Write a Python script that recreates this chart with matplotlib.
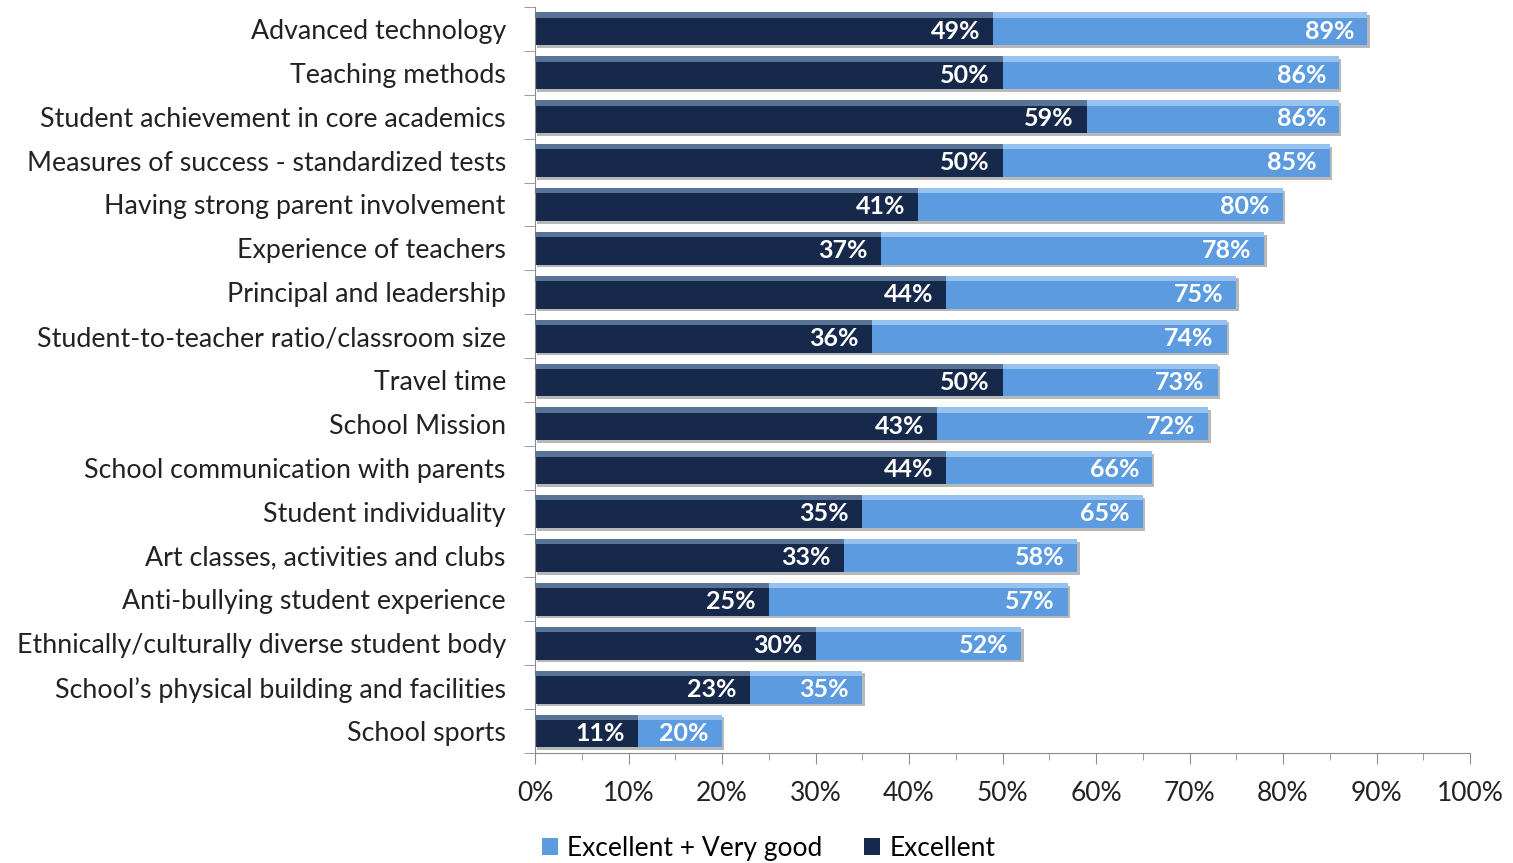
import numpy as np
import matplotlib.pyplot as plt
from matplotlib.ticker import MultipleLocator, FixedLocator, PercentFormatter
from matplotlib.patches import Patch

plt.rcParams["font.family"] = ["Lato", "DejaVu Sans"]

categories = [
    "Advanced technology",
    "Teaching methods",
    "Student achievement in core academics",
    "Measures of success - standardized tests",
    "Having strong parent involvement",
    "Experience of teachers",
    "Principal and leadership",
    "Student-to-teacher ratio/classroom size",
    "Travel time",
    "School Mission",
    "School communication with parents",
    "Student individuality",
    "Art classes, activities and clubs",
    "Anti-bullying student experience",
    "Ethnically/culturally diverse student body",
    "School\u2019s physical building and facilities",
    "School sports",
]
excellent_vgood = [89, 86, 86, 85, 80, 78, 75, 74, 73, 72, 66, 65, 58, 57, 52, 35, 20]
excellent = [49, 50, 59, 50, 41, 37, 44, 36, 50, 43, 44, 35, 33, 25, 30, 23, 11]

LIGHT = "#5d9be0"
LIGHT_TOP = "#a5cdf3"
DARK = "#17294a"
DARK_TOP = "#4d6688"

fig = plt.figure(figsize=(15.13, 8.63), dpi=100)
ax = fig.add_axes([0.3536, 0.1275, 0.6180, 0.8644])

y = np.arange(len(categories))
h = 0.75

# soft shadow under each bar
ax.barh(y + 0.06, excellent_vgood, height=h, color="#b8b8b8", left=0.25, zorder=1, linewidth=0)
for vals, base, top in [(excellent_vgood, LIGHT, LIGHT_TOP), (excellent, DARK, DARK_TOP)]:
    ax.barh(y, vals, height=h, color=base, zorder=2, linewidth=0)
    # bevel highlight along the top edge
    ax.barh(y - h / 2 + 0.06, vals, height=0.12, color=top, zorder=3, linewidth=0, alpha=0.8)

for i in range(len(categories)):
    ax.text(excellent_vgood[i] - 1.4, y[i] + 0.05, f"{excellent_vgood[i]}%", ha="right", va="center",
            color="white", fontsize=18, fontweight="bold", zorder=5)
    ax.text(excellent[i] - 1.4, y[i] + 0.05, f"{excellent[i]}%", ha="right", va="center",
            color="white", fontsize=18, fontweight="bold", zorder=5)

ax.set_xlim(0, 100)
ax.set_ylim(len(categories) - 0.5, -0.5)
ax.xaxis.set_major_locator(MultipleLocator(10))
ax.xaxis.set_minor_locator(MultipleLocator(5))
ax.xaxis.set_major_formatter(PercentFormatter(decimals=0))
ax.set_yticks(y)
ax.set_yticklabels(categories)
ax.yaxis.set_minor_locator(FixedLocator(np.arange(-0.5, len(categories), 1)))

for s in ["top", "right"]:
    ax.spines[s].set_visible(False)
for s in ["left", "bottom"]:
    ax.spines[s].set_color("#8c8c8c")

ax.tick_params(axis="x", which="major", length=8, color="#8c8c8c", labelsize=19, pad=12, labelcolor="#222222")
ax.tick_params(axis="x", which="minor", length=5, color="#8c8c8c")
ax.tick_params(axis="y", which="major", length=0, labelsize=19.3, pad=21, labelcolor="#222222")
ax.tick_params(axis="y", which="minor", length=8, color="#8c8c8c")

handles = [Patch(facecolor=LIGHT, label="Excellent + Very good"), Patch(facecolor=DARK, label="Excellent")]
fig.legend(handles=handles, loc="center", bbox_to_anchor=(0.508, 0.017), ncol=2, frameon=False,
           fontsize=19, handlelength=0.6, handleheight=0.6, handletextpad=0.35, columnspacing=1.6)

fig.savefig("out.png", dpi=100)
